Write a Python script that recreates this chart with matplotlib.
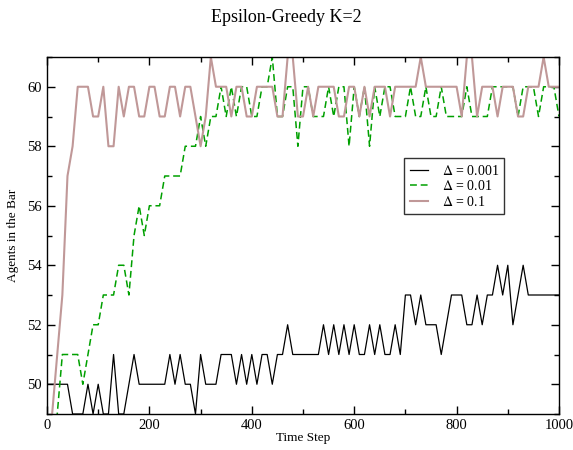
import numpy as np
import matplotlib
matplotlib.use("Agg")
import matplotlib.pyplot as plt
from matplotlib.ticker import MultipleLocator

plt.rcParams['font.family'] = ['Liberation Serif', 'DejaVu Serif']
plt.rcParams['mathtext.fontset'] = 'stix'

time_steps = list(range(0, 1001, 10))

delta_0001 = [50, 50, 50, 50, 50, 49, 49, 49, 50, 49,
              50, 49, 49, 51, 49, 49, 50, 51, 50, 50,
              50, 50, 50, 50, 51, 50, 51, 50, 50, 49,
              51, 50, 50, 50, 51, 51, 51, 50, 51, 50,
              51, 50, 51, 51, 50, 51, 51, 52, 51, 51,
              51, 51, 51, 51, 52, 51, 52, 51, 52, 51,
              52, 51, 51, 52, 51, 52, 51, 51, 52, 51,
              53, 53, 52, 53, 52, 52, 52, 51, 52, 53,
              53, 53, 52, 52, 53, 52, 53, 53, 54, 53,
              54, 52, 53, 54, 53, 53, 53, 53, 53, 53, 53]

delta_001 = [47, 48, 49, 51, 51, 51, 51, 50, 51, 52,
             52, 53, 53, 53, 54, 54, 53, 55, 56, 55,
             56, 56, 56, 57, 57, 57, 57, 58, 58, 58,
             59, 58, 59, 59, 60, 59, 60, 59, 60, 60,
             59, 59, 60, 60, 61, 59, 59, 60, 60, 58,
             60, 60, 59, 59, 59, 60, 59, 60, 60, 58,
             60, 59, 60, 58, 60, 59, 60, 60, 59, 59,
             59, 60, 59, 59, 60, 59, 59, 60, 59, 59,
             59, 59, 60, 59, 59, 59, 59, 60, 60, 60,
             60, 60, 59, 60, 60, 60, 59, 60, 60, 60, 59]

delta_01 = [47, 49, 51, 53, 57, 58, 60, 60, 60, 59,
            59, 60, 58, 58, 60, 59, 60, 60, 59, 59,
            60, 60, 59, 59, 60, 60, 59, 60, 60, 59,
            58, 59, 61, 60, 60, 60, 59, 60, 60, 59,
            59, 60, 60, 60, 60, 59, 59, 61, 61, 59,
            59, 60, 59, 60, 60, 60, 60, 59, 59, 60,
            60, 59, 60, 59, 60, 60, 60, 59, 60, 60,
            60, 60, 60, 61, 60, 60, 60, 60, 60, 60,
            60, 59, 61, 61, 59, 60, 60, 60, 59, 60,
            60, 60, 59, 59, 60, 60, 60, 61, 60, 60, 60]

labels = [r'$\Delta$ = 0.001', r'$\Delta$ = 0.01', r'$\Delta$ = 0.1']

fig = plt.figure(figsize=(5.73, 4.5), dpi=100)
ax = fig.add_axes([47/573, 36/450, (559-47)/573, (414-57)/450])

ax.plot(time_steps, delta_0001, color='black', lw=0.9, label=labels[0])
ax.plot(time_steps, delta_001, color='#00a000', lw=1.1, ls=(0, (4.5, 2.5)), label=labels[1])
ax.plot(time_steps, delta_01, color='#c09898', lw=1.5, label=labels[2])

ax.set_xlim(0, 1000)
ax.set_ylim(49, 61)
ax.xaxis.set_major_locator(MultipleLocator(200))
ax.xaxis.set_minor_locator(MultipleLocator(100))
ax.yaxis.set_major_locator(MultipleLocator(2))
ax.yaxis.set_minor_locator(MultipleLocator(1))
ax.tick_params(which='both', direction='in', top=True, right=True, labelsize=10.5, width=1)
ax.tick_params(which='major', length=6)
ax.tick_params(which='minor', length=3.5)
for sp in ax.spines.values():
    sp.set_linewidth(1.0)

ax.set_xlabel('Time Step', fontsize=9.5, labelpad=0)
ax.set_ylabel('Agents in the Bar', fontsize=9.5, labelpad=6)
fig.text(0.5, 1 - 18/450, 'Epsilon-Greedy K=2', ha='center', va='center', fontsize=13)

leg = ax.legend(loc='upper left', bbox_to_anchor=((404-47)/512, (414-158)/357),
                frameon=True, fancybox=False, fontsize=10, handlelength=1.35,
                borderpad=0.4, labelspacing=0.12, handletextpad=0.95, borderaxespad=0)
leg.get_frame().set_edgecolor('black')
leg.get_frame().set_linewidth(1.0)

fig.savefig('out.png', dpi=100)
